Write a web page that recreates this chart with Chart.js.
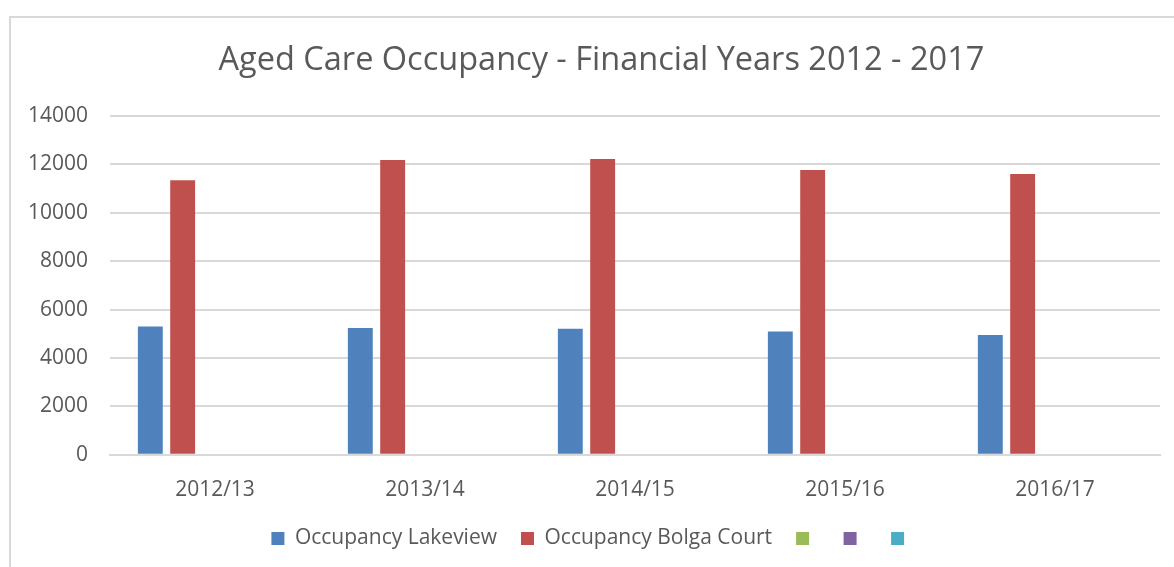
<!DOCTYPE html>
<html lang="en">
<head>
<meta charset="UTF-8">
<title>Aged Care Occupancy</title>
<script src="https://cdn.jsdelivr.net/npm/chart.js@4.4.1/dist/chart.umd.min.js"></script>
<style>
  html, body { margin: 0; padding: 0; background: #fff; overflow: hidden; }
  #frame {
    position: absolute; left: 9px; top: 16px; width: 1200px; height: 600px;
    border: 2px solid #d9d9d9; box-sizing: border-box;
  }
  #wrap { position: absolute; left: 0; top: 0; width: 1174px; height: 567px; }
</style>
</head>
<body>
<div id="frame"></div>
<div id="wrap"><canvas id="myChart"></canvas></div>

<script>
const years = ['2012/13', '2013/14', '2014/15', '2015/16', '2016/17'];
const lakeview = [5300, 5240, 5210, 5100, 4950];
const bolgaCourt = [11350, 12180, 12220, 11770, 11600];
const emptySeries = [null, null, null, null, null];
const yTicks = [0, 2000, 4000, 6000, 8000, 10000, 12000, 14000];

const FONT = "'Open Sans', sans-serif";

const ctx = document.getElementById('myChart').getContext('2d');
const myChart = new Chart(ctx, {
    type: 'bar',
    data: {
        labels: years,
        datasets: [
            { label: 'Occupancy Lakeview', data: lakeview, backgroundColor: '#4F81BD' },
            { label: 'Occupancy Bolga Court', data: bolgaCourt, backgroundColor: '#C0504D' },
            { label: '', data: emptySeries, backgroundColor: '#9BBB59' },
            { label: '', data: emptySeries, backgroundColor: '#8064A2' },
            { label: '', data: emptySeries, backgroundColor: '#4BACC6' }
        ]
    },
    options: {
        responsive: true,
        maintainAspectRatio: false,
        animation: false,
        categoryPercentage: 0.77,
        barPercentage: 0.77,
        layout: { padding: { left: 26, right: 14, top: 0, bottom: 8 } },
        scales: {
            x: {
                grid: { display: false },
                border: { color: '#d9d9d9', width: 2 },
                afterFit: (scale) => { scale.height -= 14; },
                ticks: { color: '#595959', padding: 15, font: { family: FONT, size: 21 } }
            },
            y: {
                min: 0,
                max: 14000,
                afterBuildTicks: (scale) => { scale.ticks = yTicks.map(v => ({ value: v })); },
                afterFit: (scale) => { scale.width = 84; },
                border: { display: false },
                grid: { color: '#d9d9d9', lineWidth: 2, drawTicks: false },
                ticks: {
                    color: '#595959',
                    padding: 22,
                    font: { family: FONT, size: 21 },
                    callback: (v) => String(v)
                }
            }
        },
        plugins: {
            title: {
                display: true,
                text: '\u00A0\u00A0Aged Care Occupancy - Financial Years 2012 - 2017',
                color: '#595959',
                font: { family: FONT, size: 32.5, weight: 'normal', lineHeight: 1.2 },
                padding: { top: 41, bottom: 36 }
            },
            legend: {
                position: 'bottom',
                labels: {
                    color: '#595959',
                    boxWidth: 13,
                    boxHeight: 13,
                    padding: 24,
                    font: { family: FONT, size: 21 }
                }
            },
            tooltip: { enabled: false }
        }
    }
});
</script>
</body>
</html>
